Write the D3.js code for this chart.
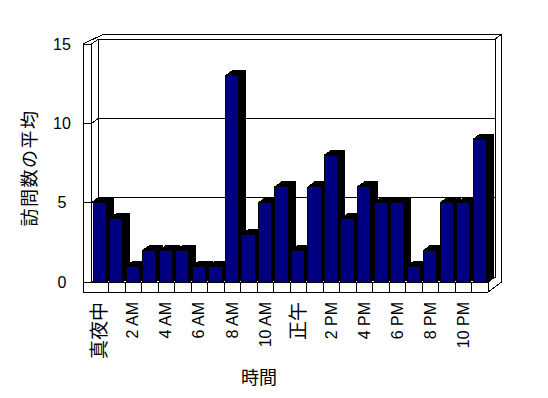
<!DOCTYPE html>
<html>
<head>
<meta charset="utf-8">
<script src="https://cdn.jsdelivr.net/npm/d3@7"></script>
<style>
  body { margin: 0; background: #fff; }
  svg { display: block; }
</style>
</head>
<body>
<div id="chart"></div>
<script>
const categories = ["真夜中", "1 AM", "2 AM", "3 AM", "4 AM", "5 AM", "6 AM", "7 AM",
                    "8 AM", "9 AM", "10 AM", "11 AM", "正午", "1 PM", "2 PM", "3 PM",
                    "4 PM", "5 PM", "6 PM", "7 PM", "8 PM", "9 PM", "10 PM", "11 PM"];
const visits = [5, 4, 1, 2, 2, 2, 1, 1, 13, 3, 5, 6, 2, 6, 8, 4, 6, 5, 5, 1, 2, 5, 5, 9];
const tickLabels = ["真夜中", "2 AM", "4 AM", "6 AM", "8 AM", "10 AM", "正午",
                    "2 PM", "4 PM", "6 PM", "8 PM", "10 PM"];
const yTicks = [0, 5, 10, 15];
const yTitle = "訪問数の平均";
const xTitle = "時間";

const width = 548, height = 398;
const outerLeft = 83, innerLeft = 91.5, right = 488;
const floorBottom = 292;
const dx = 7, dy = -5;       // depth of the plot box
const tx = 6.5, ty = -4.5;   // thickness of the back wall

const x = d3.scaleBand()
    .domain(categories)
    .range([innerLeft, right])
    .paddingInner(0.2)
    .paddingOuter(0.1);

const y = d3.scaleLinear()
    .domain([0, 15])
    .range([282, 44]);

const step = x.step();
const bw = x.bandwidth();
const y0 = y(0), yTop = y(15);

const svg = d3.select("#chart")
    .append("svg")
    .attr("width", width)
    .attr("height", height)
    .attr("shape-rendering", "crispEdges");

const frame = svg.append("g")
    .attr("fill", "none")
    .attr("stroke", "#000")
    .attr("stroke-width", 1);

// back wall face
frame.append("rect")
    .attr("x", innerLeft + dx)
    .attr("y", yTop + dy)
    .attr("width", right - innerLeft)
    .attr("height", y0 - yTop)
    .attr("fill", "#fff");

// outer outline of walls and floor
frame.append("path")
    .attr("fill", "none")
    .attr("d", `M${outerLeft},${yTop} V${floorBottom} H${right} L${right + dx + tx},${y0}
                V${yTop + dy + ty} H${innerLeft + dx + tx - 2} Z`);

// left wall front edge and top
frame.append("path")
    .attr("d", `M${outerLeft},${yTop} H${innerLeft} V${y0} M${innerLeft + dx + tx - 2},${yTop + dy + ty}
                L${outerLeft},${yTop}`);

// back wall top-right corner
frame.append("path")
    .attr("d", `M${right + dx},${yTop + dy} L${right + dx + tx},${yTop + dy + ty}`);

// grid lines running over the left wall and the back wall
frame.selectAll(".grid")
    .data(yTicks)
    .enter()
    .append("path")
    .attr("class", "grid")
    .attr("d", d => `M${outerLeft},${y(d)} H${innerLeft} L${innerLeft + dx},${y(d) + dy} H${right + dx}`);

// floor
frame.append("path")
    .attr("d", `M${innerLeft},${y0} H${right} V${floorBottom} M${right},${y0} L${right + dx},${y0 + dy}`);

frame.selectAll(".divider")
    .data(categories.slice(1))
    .enter()
    .append("line")
    .attr("class", "divider")
    .attr("x1", d => Math.round(x(d) - step * 0.1) + 0.5)
    .attr("x2", d => Math.round(x(d) - step * 0.1) + 0.5)
    .attr("y1", y0)
    .attr("y2", floorBottom);

// bars, drawn left to right so each one hides the side of the previous
const bars = svg.append("g")
    .selectAll(".bar")
    .data(visits)
    .enter()
    .append("g")
    .attr("class", "bar")
    .attr("stroke", "#000")
    .attr("stroke-width", 1)
    .attr("stroke-linejoin", "round");

bars.append("path")
    .attr("fill", "#000")
    .attr("d", (d, i) => {
        const x0 = x(categories[i]), x1 = x0 + bw, yv = y(d);
        return `M${x1},${yv} L${x1 + dx},${yv + dy} V${y0 + dy} L${x1},${y0} Z`;
    });

bars.append("path")
    .attr("fill", "#000")
    .attr("d", (d, i) => {
        const x0 = x(categories[i]), x1 = x0 + bw, yv = y(d);
        return `M${x0},${yv} L${x0 + dx},${yv + dy} H${x1 + dx} L${x1},${yv} Z`;
    });

bars.append("rect")
    .attr("fill", "#000080")
    .attr("x", (d, i) => x(categories[i]))
    .attr("y", d => y(d))
    .attr("width", bw)
    .attr("height", d => y0 - y(d));

// value axis labels
const yAxis = svg.append("g")
    .attr("transform", `translate(${outerLeft},0)`)
    .call(d3.axisLeft(y).tickValues(yTicks).tickSize(0).tickFormat(d3.format("d")));

yAxis.select(".domain").remove();
yAxis.selectAll("text")
    .attr("x", -21)
    .attr("text-anchor", "middle")
    .attr("fill", "#000")
    .attr("font-family", "'Liberation Sans', Arial, sans-serif")
    .attr("font-size", "16px");

// category labels
const xAxis = svg.append("g")
    .attr("transform", "translate(0,302)")
    .call(d3.axisBottom(x).tickValues(categories.filter(c => tickLabels.includes(c))).tickSize(0));

xAxis.select(".domain").remove();
xAxis.selectAll("text")
    .attr("transform", "rotate(-90)")
    .attr("x", 0)
    .attr("y", 0)
    .attr("dy", "0.35em")
    .attr("text-anchor", "end")
    .attr("fill", "#000")
    .attr("font-family", "'Liberation Sans', 'Noto Sans CJK JP', sans-serif")
    .attr("font-size", d => /[^\x00-\x7F]/.test(d) ? "19px" : "16px");

// axis titles
svg.append("text")
    .attr("transform", "translate(30,168) rotate(-90)")
    .attr("text-anchor", "middle")
    .attr("dy", "0.35em")
    .attr("font-family", "'Noto Sans CJK JP', sans-serif")
    .attr("font-size", "18px")
    .attr("letter-spacing", "1.5px")
    .text(yTitle);

svg.append("text")
    .attr("x", 259)
    .attr("y", 378)
    .attr("text-anchor", "middle")
    .attr("dy", "0.35em")
    .attr("font-family", "'Noto Sans CJK JP', sans-serif")
    .attr("font-size", "18px")
    .text(xTitle);
</script>
</body>
</html>
